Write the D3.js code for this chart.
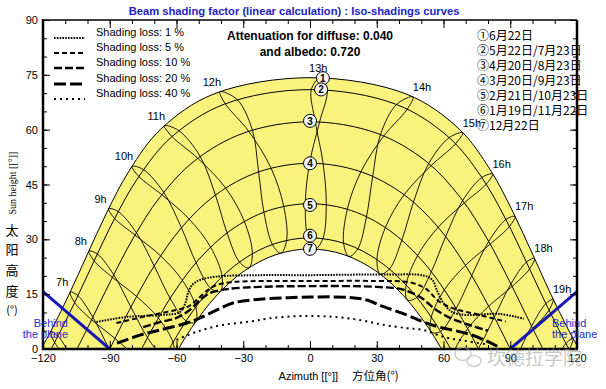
<!DOCTYPE html>
<html>
<head>
<meta charset="utf-8">
<script src="https://cdn.jsdelivr.net/npm/d3@7"></script>
<style>
  body { margin: 0; background: #fff; }
  svg { display: block; font-family: "Liberation Sans", Arial, sans-serif; }
</style>
</head>
<body>
<svg id="chart" width="606" height="389"></svg>
<script>
// ---- data ----
const azTicks = [-120, -90, -60, -30, 0, 30, 60, 90, 120];
const altTicks = [0, 15, 30, 45, 60, 75, 90];

const hourNames = ['6h', '7h', '8h', '9h', '10h', '11h', '12h', '13h', '14h', '15h', '16h', '17h', '18h', '19h', '20h'];
const labelledHours = ['7h', '8h', '9h', '10h', '11h', '12h', '13h', '14h', '15h', '16h', '17h', '18h', '19h'];

// sun position [azimuth, height] at each hour 6h..20h, dates in calendar order
const dec22 = [[-78.6, -24.1], [-70.2, -13.0], [-61.3, -2.4], [-51.5, 7.3], [-40.4, 15.7], [-27.5, 22.2], [-13.1, 26.2], [2.2, 27.3], [17.5, 25.3], [31.5, 20.5], [43.8, 13.4], [54.5, 4.6], [64.0, -5.4], [72.7, -16.2], [81.1, -27.5]];
const jan19 = [[-83.1, -24.8], [-74.4, -13.4], [-65.5, -2.4], [-55.7, 7.7], [-44.6, 16.6], [-31.7, 23.8], [-16.9, 28.6], [-0.9, 30.4], [15.1, 29.0], [30.1, 24.5], [43.2, 17.5], [54.5, 8.7], [64.4, -1.3], [73.4, -12.1], [82.2, -23.5]];
const feb21 = [[-91.8, -19.8], [-82.4, -8.2], [-73.0, 3.1], [-62.9, 13.9], [-51.2, 23.6], [-37.3, 31.8], [-20.7, 37.4], [-2.1, 39.7], [16.8, 38.3], [33.9, 33.3], [48.4, 25.6], [60.4, 16.2], [70.9, 5.6], [80.4, -5.7], [89.7, -17.3]];
const mar20 = [[-99.7, -11.6], [-90.1, -0.1], [-80.5, 11.5], [-70.0, 22.7], [-57.8, 33.2], [-42.5, 42.1], [-23.1, 48.4], [-0.2, 50.8], [22.9, 48.5], [42.3, 42.2], [57.6, 33.3], [69.9, 22.9], [80.3, 11.7], [89.9, 0.1], [99.6, -11.5]];
const apr20 = [[-107.0, -2.6], [-97.6, 8.7], [-88.2, 20.3], [-78.0, 31.8], [-65.8, 42.9], [-49.4, 52.7], [-25.9, 59.9], [4.3, 62.1], [33.2, 58.3], [54.5, 50.2], [69.4, 40.0], [81.0, 28.7], [90.8, 17.1], [100.1, 5.6], [109.6, -5.6]];
const may22 = [[-113.2, 3.5], [-104.3, 14.6], [-95.6, 26.0], [-86.2, 37.6], [-74.9, 49.1], [-59.1, 59.8], [-32.7, 68.2], [7.7, 70.8], [43.7, 65.6], [65.5, 56.2], [79.2, 45.1], [89.6, 33.5], [98.7, 21.9], [107.4, 10.6], [116.5, -0.2]];
const jun22 = [[-116.5, 4.8], [-107.8, 15.6], [-99.4, 26.8], [-90.5, 38.4], [-80.0, 50.0], [-65.5, 61.1], [-40.5, 70.4], [4.6, 74.2], [46.3, 69.0], [68.7, 59.2], [82.1, 47.9], [92.2, 36.3], [100.9, 24.8], [109.3, 13.6], [118.2, 2.9]];
const jul23 = [[-114.8, 1.8], [-105.8, 12.7], [-97.0, 24.1], [-87.8, 35.7], [-76.9, 47.2], [-62.0, 58.1], [-38.1, 67.1], [0.6, 71.0], [38.9, 66.9], [62.5, 57.8], [77.2, 46.9], [88.0, 35.4], [97.3, 23.8], [106.0, 12.4], [115.0, 1.5]];
const aug23 = [[-107.5, -3.3], [-98.1, 8.0], [-88.8, 19.6], [-78.7, 31.2], [-66.6, 42.2], [-50.5, 52.2], [-27.6, 59.6], [2.4, 62.1], [31.7, 58.7], [53.4, 50.8], [68.6, 40.6], [80.3, 29.4], [90.3, 17.8], [99.6, 6.3], [109.0, -5.0]];
const sep23 = [[-97.2, -8.7], [-87.7, 2.9], [-78.0, 14.4], [-67.2, 25.5], [-54.4, 35.6], [-38.0, 44.1], [-17.6, 49.6], [5.9, 50.7], [28.2, 47.3], [46.5, 40.2], [61.0, 30.8], [72.7, 20.1], [82.8, 8.7], [92.3, -2.9], [101.5, -14.4]];
const oct23 = [[-87.2, -14.1], [-77.9, -2.6], [-68.2, 8.5], [-57.4, 18.8], [-44.7, 27.9], [-29.5, 34.9], [-11.8, 39.0], [7.3, 39.5], [25.4, 36.2], [41.3, 29.8], [54.5, 21.1], [65.7, 11.1], [75.6, 0.1], [84.9, -11.3], [94.4, -23.0]];
const nov22 = [[-79.6, -20.0], [-70.8, -8.8], [-61.6, 1.8], [-51.3, 11.5], [-39.5, 19.8], [-25.9, 26.1], [-10.5, 29.7], [5.8, 30.2], [21.5, 27.4], [35.7, 21.9], [48.0, 14.1], [58.7, 4.8], [68.2, -5.6], [77.0, -16.7], [85.8, -28.2]];

// day paths (one per legend entry), sunrise to sunset
const path1 = [[-120.9, 0], [-117.35, 3.86], [-108.57, 14.56], [-100.12, 25.81], [-91.32, 37.36], [-81.08, 48.95], [-67.1, 60.13], [-43.35, 69.73], [0, 74.22], [43.35, 69.73], [67.1, 60.13], [81.08, 48.95], [91.32, 37.36], [100.12, 25.81], [108.57, 14.56], [117.35, 3.86], [120.9, 0]];
const path2 = [[-116.4, 0], [-114.88, 1.68], [-105.88, 12.57], [-97.13, 23.95], [-87.91, 35.56], [-77.06, 47.06], [-62.28, 57.97], [-38.48, 66.98], [0, 70.95], [38.48, 66.98], [62.28, 57.97], [77.06, 47.06], [87.91, 35.56], [97.13, 23.95], [105.88, 12.57], [114.88, 1.68], [116.4, 0]];
const path3 = [[-104.71, 0], [-98.84, 7.15], [-89.52, 18.72], [-79.5, 30.28], [-67.61, 41.42], [-51.93, 51.47], [-29.63, 59.11], [0, 62.15], [29.63, 59.11], [51.93, 51.47], [67.61, 41.42], [79.5, 30.28], [89.52, 18.72], [98.84, 7.15], [104.71, 0]];
const path4 = [[-90, 0], [-80.39, 11.57], [-69.95, 22.8], [-57.71, 33.22], [-42.41, 42.16], [-23.0, 48.46], [0, 50.8], [23.0, 48.46], [42.41, 42.16], [57.71, 33.22], [69.95, 22.8], [80.39, 11.57], [90, 0]];
const path5 = [[-75.68, 0], [-71.94, 4.34], [-61.64, 15.02], [-49.77, 24.62], [-35.59, 32.51], [-18.76, 37.84], [0, 39.75], [18.76, 37.84], [35.59, 32.51], [49.77, 24.62], [61.64, 15.02], [71.94, 4.34], [75.68, 0]];
const path6 = [[-63.26, 0], [-55.09, 8.22], [-43.88, 17.06], [-30.9, 24.12], [-16.1, 28.76], [0, 30.4], [16.1, 28.76], [30.9, 24.12], [43.88, 17.06], [55.09, 8.22], [63.26, 0]];
const path7 = [[-59.11, 0], [-53.02, 5.98], [-42.07, 14.56], [-29.51, 21.37], [-15.27, 25.81], [0, 27.36], [15.27, 25.81], [29.51, 21.37], [42.07, 14.56], [53.02, 5.98], [59.11, 0]];

const markerNums = ['1', '2', '3', '4', '5', '6', '7'];
const markerPos = [[5.8, 74.1], [5.0, 71.0], [0, 62.4], [0, 50.8], [0, 39.4], [0, 31.0], [0, 27.4]];
const dateSigns = ['①', '②', '③', '④', '⑤', '⑥', '⑦'];
const dateNames = ['6月22日', '5月22日/7月23日', '4月20日/8月23日', '3月20日/9月23日', '2月21日/10月23日', '1月19日/11月22日', '12月22日'];

// iso-shading curves
const lossNames = ['Shading loss: 1 %', 'Shading loss: 5 %', 'Shading loss: 10 %', 'Shading loss: 20 %', 'Shading loss: 40 %'];
const loss1 = [[-96, 7.4], [-82, 8.8], [-67, 9.3], [-58.5, 10.1], [-56, 12.6], [-54.8, 15.3], [-53, 17.5], [-49.4, 18.9], [-42, 19.8], [-22.5, 20.2], [0, 20.2], [36, 20.4], [51, 20.1], [55, 18.9], [57, 16.1], [60, 12.6], [64, 10.1], [70.6, 9.3], [85, 9.6], [96, 8.3]];
const loss5 = [[-87, 7.1], [-75, 8.8], [-67, 9.8], [-60, 10.7], [-55, 11.5], [-51, 13.4], [-46, 16.1], [-42, 17.5], [-35, 18.3], [-22, 18.6], [0, 18.6], [30, 18.6], [45, 18.2], [52, 16.5], [58, 13.0], [65, 11.0], [75, 9.5], [88, 7.5]];
const loss10 = [[-75, 6.0], [-67, 7.4], [-60, 8.5], [-54, 10.7], [-49.4, 13.4], [-45, 15.3], [-37, 16.4], [-22.5, 17.0], [0, 17.2], [30, 17.0], [42, 16.2], [50, 14.0], [56, 11.0], [63, 8.5], [72, 6.5], [80, 5.0]];
const loss20 = [[-86.7, 1.6], [-76.4, 3.8], [-67.4, 5.2], [-55.3, 7.1], [-49.4, 8.5], [-41.8, 10.7], [-34.6, 12.6], [-22.5, 13.6], [0, 14.2], [18, 14.1], [25.5, 13.4], [33, 11.6], [43.5, 9.3], [51, 7.4], [58, 6.0], [73, 3.8], [85, 0.5]];
const loss40 = [[-60, 2.5], [-51, 4.7], [-40, 6.5], [-27, 7.5], [-18, 8.4], [-4.5, 9.0], [10.5, 8.8], [22.5, 7.9], [33, 6.6], [43.6, 5.7], [51, 5.2], [60, 3.3], [70, 2.2], [80, 1.2]];

// horizon line ("behind the plane")
const horizonLeft = [[-120, 15.7], [-90, 0]];
const horizonRight = [[90, 0], [120, 15.7]];

// ---- setup ----
const svg = d3.select('#chart');
const plot = {left: 43, right: 577, top: 20, bottom: 349};
const x = d3.scaleLinear().domain([-120, 120]).range([plot.left, plot.right]);
const y = d3.scaleLinear().domain([0, 90]).range([plot.bottom, plot.top]);

svg.append('rect').attr('width', 606).attr('height', 389).attr('fill', '#fff');

svg.append('defs').append('clipPath').attr('id', 'clip')
    .append('rect')
    .attr('x', plot.left).attr('y', plot.top)
    .attr('width', plot.right - plot.left).attr('height', plot.bottom - plot.top);

const g = svg.append('g').attr('clip-path', 'url(#clip)');

const line = d3.line().x(d => x(d[0])).y(d => y(d[1])).curve(d3.curveCatmullRom.alpha(0.5));
const loop = d3.line().x(d => x(d[0])).y(d => y(d[1])).curve(d3.curveCatmullRomClosed.alpha(0.5));
const straight = d3.line().x(d => x(d[0])).y(d => y(d[1]));

// yellow band between summer and winter paths
const outer = line(path1);
const inner = line(path7.slice().reverse());
g.append('path')
    .attr('d', outer + 'L' + inner.slice(1) + 'Z')
    .attr('fill', '#f9f27d')
    .attr('stroke', 'none');

// hour lines (analemmas)
const year = [dec22, jan19, feb21, mar20, apr20, may22, jun22, jul23, aug23, sep23, oct23, nov22];
hourNames.forEach((h, i) => {
    g.append('path')
        .attr('d', loop(year.map(day => day[i])))
        .attr('fill', 'none')
        .attr('stroke', '#000')
        .attr('stroke-width', 0.9);
});

// day paths
[path1, path2, path3, path4, path5, path6, path7].forEach(p => {
    g.append('path')
        .attr('d', line(p))
        .attr('fill', 'none')
        .attr('stroke', '#000')
        .attr('stroke-width', 1);
});

// iso-shading curves
const lossStyles = [
    {dash: '1.6,1.2', width: 2},
    {dash: '5,3', width: 2},
    {dash: '8,3', width: 2.4},
    {dash: '12,4', width: 3},
    {dash: '2,4', width: 2},
];
[loss1, loss5, loss10, loss20, loss40].forEach((c, i) => {
    g.append('path')
        .attr('d', line(c))
        .attr('fill', 'none')
        .attr('stroke', '#000')
        .attr('stroke-width', lossStyles[i].width)
        .attr('stroke-dasharray', lossStyles[i].dash);
});

// horizon
[horizonLeft, horizonRight].forEach(hz => {
    g.append('path')
        .attr('d', straight(hz))
        .attr('stroke', '#1616b4')
        .attr('stroke-width', 3)
        .attr('fill', 'none');
});

// hour labels, placed next to the June point
labelledHours.forEach(h => {
    const p = jun22[hourNames.indexOf(h)];
    const dx = p[0] < -5 ? -8 : (p[0] > 5 ? 9 : -2);
    svg.append('text')
        .attr('x', x(p[0]) + dx)
        .attr('y', y(p[1]) - 6)
        .attr('text-anchor', 'middle')
        .attr('font-size', 11)
        .attr('fill', '#000')
        .text(h);
});

// circled date markers
markerPos.forEach((p, i) => {
    const m = svg.append('g').attr('transform', `translate(${x(p[0])},${y(p[1])})`);
    m.append('circle').attr('r', 6.5).attr('fill', '#f6f6f6').attr('stroke', '#000').attr('stroke-width', 1);
    m.append('text')
        .attr('text-anchor', 'middle')
        .attr('dy', '0.36em')
        .attr('font-size', 10)
        .attr('font-weight', 'bold')
        .text(markerNums[i]);
});

// ---- axes ----
const minorAz = d3.range(-110, 120, 10);
const minorAlt = d3.range(5, 90, 5);

const axisB = svg.append('g').attr('transform', `translate(0,${plot.bottom})`);
axisB.append('g').call(d3.axisTop(x).tickValues(azTicks).tickSize(8).tickFormat(''));
axisB.append('g').call(d3.axisTop(x).tickValues(minorAz).tickSize(4).tickFormat(''));
axisB.append('g').call(d3.axisBottom(x).tickValues(azTicks).tickSize(0).tickPadding(5).tickFormat(d3.format('d')));

const axisT = svg.append('g').attr('transform', `translate(0,${plot.top})`);
axisT.append('g').call(d3.axisBottom(x).tickValues(azTicks).tickSize(8).tickFormat(''));
axisT.append('g').call(d3.axisBottom(x).tickValues(minorAz).tickSize(4).tickFormat(''));

const axisL = svg.append('g').attr('transform', `translate(${plot.left},0)`);
axisL.append('g').call(d3.axisRight(y).tickValues(altTicks).tickSize(7).tickFormat(''));
axisL.append('g').call(d3.axisRight(y).tickValues(minorAlt).tickSize(4).tickFormat(''));
axisL.append('g').call(d3.axisLeft(y).tickValues(altTicks).tickSize(0).tickPadding(5).tickFormat(d3.format('d')));

const axisR = svg.append('g').attr('transform', `translate(${plot.right},0)`);
axisR.append('g').call(d3.axisLeft(y).tickValues(altTicks).tickSize(7).tickFormat(''));
axisR.append('g').call(d3.axisLeft(y).tickValues(minorAlt).tickSize(4).tickFormat(''));

svg.selectAll('.domain').remove();
svg.selectAll('.tick line').attr('stroke', '#000').attr('stroke-width', 1);
svg.selectAll('.tick text').attr('font-size', 11).attr('fill', '#000').attr('font-family', '"Liberation Sans", Arial, sans-serif');

// frame
const frame = (x1, y1, x2, y2, w) => svg.append('line')
    .attr('x1', x1).attr('y1', y1).attr('x2', x2).attr('y2', y2)
    .attr('stroke', '#000').attr('stroke-width', w);
frame(plot.left, plot.top, plot.right, plot.top, 1.5);
frame(plot.right, plot.top, plot.right, plot.bottom, 2.5);
frame(plot.left, plot.top - 1, plot.left, plot.bottom + 1, 2.5);
frame(plot.left - 1, plot.bottom, plot.right + 1, plot.bottom, 2.5);

// ---- texts ----
svg.append('text')
    .attr('x', 294).attr('y', 15)
    .attr('text-anchor', 'middle')
    .attr('font-size', 11.2)
    .attr('font-weight', 'bold')
    .attr('fill', '#2222c4')
    .text('Beam shading factor (linear calculation) : Iso-shadings curves');

svg.append('text').attr('x', 310).attr('y', 40).attr('text-anchor', 'middle')
    .attr('font-size', 12).attr('font-weight', 'bold').text('Attenuation for diffuse: 0.040');
svg.append('text').attr('x', 310).attr('y', 56).attr('text-anchor', 'middle')
    .attr('font-size', 12).attr('font-weight', 'bold').text('and albedo: 0.720');

// shading legend
lossNames.forEach((name, i) => {
    const by = [36, 51, 66, 82, 97][i];
    svg.append('line')
        .attr('x1', 54).attr('x2', 85).attr('y1', by + 2).attr('y2', by + 2)
        .attr('stroke', '#000')
        .attr('stroke-width', lossStyles[i].width)
        .attr('stroke-dasharray', lossStyles[i].dash);
    svg.append('text').attr('x', 96).attr('y', by).attr('font-size', 11).text(name);
});

// date legend
dateNames.forEach((name, i) => {
    svg.append('text')
        .attr('x', 477).attr('y', 40 + i * 15)
        .attr('font-size', 12)
        .attr('font-family', '"Noto Sans CJK SC", sans-serif')
        .text(dateSigns[i] + name);
});

// behind the plane
[['Behind', 68, 327, 'end'], ['the plane', 68, 338, 'end'], ['Behind', 552, 327, 'start'], ['the plane', 552, 338, 'start']]
    .forEach(([t, tx, ty, anchor]) => {
        svg.append('text').attr('x', tx).attr('y', ty).attr('text-anchor', anchor)
            .attr('font-size', 11).attr('fill', '#2a2ad0').text(t);
    });

// axis titles
svg.append('text').attr('x', 338).attr('y', 380).attr('text-anchor', 'end')
    .attr('font-size', 11).text('Azimuth [[°]]');
svg.append('text').attr('x', 352).attr('y', 380)
    .attr('font-size', 11.5).attr('font-family', '"Noto Sans CJK SC", sans-serif').text('方位角(°)');

svg.append('text')
    .attr('transform', 'translate(16,183) rotate(-90)')
    .attr('text-anchor', 'middle')
    .attr('font-size', 10)
    .attr('font-family', '"Liberation Serif", serif')
    .text('Sun height [[°]]');
['太', '阳', '高', '度', '(°)'].forEach((c, i) => {
    svg.append('text')
        .attr('x', 12).attr('y', [235, 254, 275, 296, 314][i])
        .attr('text-anchor', 'middle')
        .attr('font-size', c === '(°)' ? 11 : 13)
        .attr('font-family', '"Noto Sans CJK SC", sans-serif')
        .text(c);
});

// watermark
const wm = svg.append('g').attr('opacity', 0.55);
wm.append('ellipse').attr('cx', 463).attr('cy', 354).attr('rx', 8).attr('ry', 6.5).attr('fill', 'none').attr('stroke', '#aaa').attr('stroke-width', 1.5);
wm.append('ellipse').attr('cx', 474).attr('cy', 361).attr('rx', 7).attr('ry', 5.5).attr('fill', 'none').attr('stroke', '#aaa').attr('stroke-width', 1.5);
wm.append('text').attr('x', 487).attr('y', 365).attr('font-size', 19)
    .attr('font-family', '"Noto Sans CJK SC", sans-serif').attr('fill', '#999').text('坎德拉学院');
</script>
</body>
</html>
